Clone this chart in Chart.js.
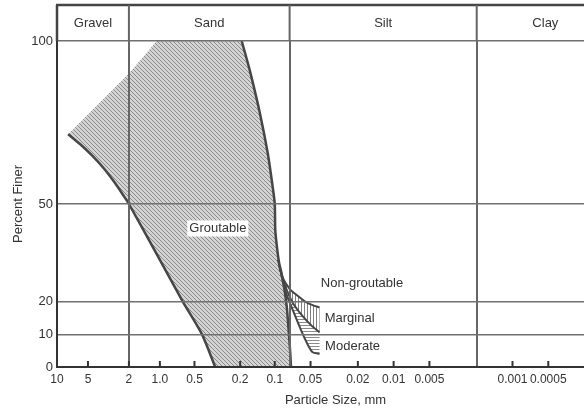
<!DOCTYPE html>
<html>
<head>
<meta charset="utf-8">
<script src="https://cdn.jsdelivr.net/npm/chart.js@4/dist/chart.umd.min.js"></script>
<style>
  html, body { margin: 0; padding: 0; background: #fff; overflow: hidden; }
  /* the sheet runs on past the right edge of the window */
  #grading { display: block; }
</style>
</head>
<body>
<canvas id="grading" width="614" height="412"></canvas>
<script>
/* global Chart */
{
  ('use strict');

  // sieve sizes (mm) labelled on the axis, coarse to fine
  const sizeTicks = [10, 5, 2, 1, 0.5, 0.2, 0.1, 0.05, 0.02, 0.01, 0.005, 0.001, 0.0005];
  const sizeTickLabels = ['10', '5', '2', '1.0', '0.5', '0.2', '0.1', '0.05', '0.02', '0.01', '0.005', '0.001', '0.0005'];
  const percentTicks = [0, 10, 20, 50, 100];

  // soil classes and the sizes (mm) that separate them
  const soilClasses = ['Gravel', 'Sand', 'Silt', 'Clay'];
  const classLimits = [10, 2, 0.075, 0.002, 0.00014];

  // groutable band - coarse edge, bottom up to the apex
  const coarseSize = [0.33, 0.43, 0.63, 1.09, 2.0, 2.24, 2.74, 3.5, 4.57, 5.98, 7.8];
  const coarsePct = [0, 10, 20, 35, 50, 52.4, 56.5, 60.9, 64.9, 68.4, 71.4];
  // upper edge, apex to the 100% line
  const upperSize = [7.8, 2.0, 1.07];
  const upperPct = [71.4, 90, 100];
  // fine edge, top down to the axis
  const fineSize = [0.194, 0.165, 0.135, 0.115, 0.104, 0.1, 0.099, 0.096, 0.092, 0.088, 0.083, 0.079, 0.076, 0.074, 0.073];
  const finePct = [100, 91, 78, 65.5, 55, 50, 42, 37, 32, 29, 24, 18, 10, 4, 0];

  // limits of the marginal and moderate zones
  const marginalTopSize = [0.094, 0.086, 0.075, 0.065, 0.055, 0.048, 0.042];
  const marginalTopPct = [33, 27.5, 24, 22, 20, 19, 18.3];
  const moderateTopSize = [0.092, 0.082, 0.07, 0.058, 0.05, 0.042];
  const moderateTopPct = [31, 25, 19.5, 15.5, 13, 10.6];
  const moderateBottomSize = [0.09, 0.082, 0.0706, 0.059, 0.053, 0.048, 0.042];
  const moderateBottomPct = [30, 23.5, 17.5, 10.6, 7, 4.5, 4];

  // zone names and where they are written (size mm, percent)
  const zoneNames = ['Groutable', 'Non-groutable', 'Marginal', 'Moderate'];
  const zoneLabelSize = [0.313, 0.041, 0.038, 0.0377];
  const zoneLabelPct = [42.5, 25.7, 14.9, 6.3];

  const HEADER = 36;
  const FONT = '"Liberation Sans", Arial, sans-serif';
  const INK = '#333';

  Chart.defaults.font.family = FONT;
  Chart.defaults.font.size = 13;
  Chart.defaults.color = INK;

  const pts = function (sizes, pcts) {
    return sizes.map(function (s, i) {
      return { x: s, y: pcts[i] };
    });
  };

  /* log axis where every decade gets its own width, as on the printed grading sheet */
  class SieveScale extends Chart.LogarithmicScale {
    static id = 'sieve';
    static defaults = {};

    widthOf(k) {
      const widths = this.options.decadeWidths;
      return widths[Math.min(k, widths.length - 1)];
    }

    unitsOf(value) {
      let t = Math.log10(this.max / value);
      let units = 0;
      let k = 0;
      while (t > 1) {
        units += this.widthOf(k);
        t -= 1;
        k++;
      }
      return units + t * this.widthOf(k);
    }

    getPixelForValue(value) {
      return this.getPixelForDecimal(1 - this.unitsOf(value) / this.unitsOf(this.min));
    }

    getValueForPixel(pixel) {
      let units = (1 - this.getDecimalForPixel(pixel)) * this.unitsOf(this.min);
      let t = 0;
      let k = 0;
      while (units > this.widthOf(k)) {
        units -= this.widthOf(k);
        t++;
        k++;
      }
      t += units / this.widthOf(k);
      return this.max / Math.pow(10, t);
    }
  }
  Chart.register(SieveScale);

  /* hatch fills */
  const hatch = function (size, bg, ink, draw) {
    const c = document.createElement('canvas');
    c.width = size;
    c.height = size;
    const g = c.getContext('2d');
    g.fillStyle = bg;
    g.fillRect(0, 0, size, size);
    g.strokeStyle = ink;
    g.lineWidth = 1;
    g.beginPath();
    draw(g, size);
    g.stroke();
    return g.createPattern(c, 'repeat');
  };

  const diagonal = hatch(4, '#d4d4d4', '#8a8a8a', function (g, s) {
    g.moveTo(-1, -1);
    g.lineTo(s + 1, s + 1);
    g.moveTo(s - 1, -1);
    g.lineTo(s + 1, 1);
    g.moveTo(-1, s - 1);
    g.lineTo(1, s + 1);
  });
  const vertical = hatch(3, '#ffffff', '#808080', function (g, s) {
    g.moveTo(1.5, 0);
    g.lineTo(1.5, s);
  });
  const horizontal = hatch(3, '#ffffff', '#8a8a8a', function (g, s) {
    g.moveTo(0, 1.5);
    g.lineTo(s, 1.5);
  });

  const groutableShape = pts(coarseSize, coarsePct)
    .concat(pts(upperSize, upperPct).slice(1))
    .concat(pts(fineSize, finePct));
  const marginalShape = pts(marginalTopSize, marginalTopPct)
    .concat(pts(moderateTopSize, moderateTopPct).reverse());
  const moderateShape = pts(moderateTopSize, moderateTopPct)
    .concat(pts(moderateBottomSize, moderateBottomPct).reverse());

  const zone = function (data, pattern) {
    return {
      data: data,
      fill: 'shape',
      backgroundColor: pattern,
      borderColor: 'transparent',
      borderWidth: 0,
      pointRadius: 0,
      tension: 0,
      order: 2,
    };
  };

  const edge = function (data, width) {
    return {
      data: data,
      fill: false,
      borderColor: '#464646',
      borderWidth: width,
      pointRadius: 0,
      tension: 0.25,
      order: 0,
    };
  };

  /* header band with the soil classes, tick marks and zone names */
  const sheetPlugin = {
    id: 'sheet',
    beforeDraw(chart) {
      const ctx = chart.ctx;
      ctx.save();
      ctx.fillStyle = '#fff';
      ctx.fillRect(0, 0, chart.width, chart.height);
      ctx.restore();
    },
    afterDraw(chart) {
      const { ctx, chartArea: area, scales } = chart;
      const x = scales.x;
      const y = scales.y;
      const top = area.top - HEADER;

      ctx.save();
      ctx.lineCap = 'butt';

      ctx.strokeStyle = '#444';
      ctx.lineWidth = 2.5;
      ctx.beginPath();
      ctx.moveTo(area.left - 1, top);
      ctx.lineTo(area.right, top);
      ctx.moveTo(area.left, top);
      ctx.lineTo(area.left, area.top);
      ctx.stroke();

      ctx.strokeStyle = '#666';
      ctx.lineWidth = 2;
      ctx.beginPath();
      classLimits.slice(1, -1).forEach(function (v) {
        const px = x.getPixelForValue(v);
        ctx.moveTo(px, top);
        ctx.lineTo(px, area.top);
      });
      ctx.stroke();

      ctx.fillStyle = INK;
      ctx.font = '13px ' + FONT;
      ctx.textAlign = 'center';
      ctx.textBaseline = 'middle';
      soilClasses.forEach(function (name, i) {
        const a = x.getPixelForValue(classLimits[i]);
        const b = x.getPixelForValue(classLimits[i + 1]);
        ctx.fillText(name, (a + b) / 2, top + HEADER / 2);
      });

      // tick marks stand inside the plot
      ctx.strokeStyle = '#333';
      ctx.lineWidth = 2;
      ctx.beginPath();
      sizeTicks.forEach(function (v) {
        const px = x.getPixelForValue(v);
        ctx.moveTo(px, area.bottom);
        ctx.lineTo(px, area.bottom - 6);
      });
      ctx.stroke();

      zoneNames.forEach(function (name, i) {
        const px = x.getPixelForValue(zoneLabelSize[i]);
        const py = y.getPixelForValue(zoneLabelPct[i]);
        if (i === 0) {
          const w = ctx.measureText(name).width;
          ctx.fillStyle = '#fff';
          ctx.fillRect(px - w / 2 - 2, py - 8, w + 4, 16);
          ctx.fillStyle = INK;
          ctx.textAlign = 'center';
        } else {
          ctx.textAlign = 'left';
        }
        ctx.fillText(name, px, py);
      });

      ctx.restore();
    },
  };

  const ctx = document.getElementById('grading').getContext('2d');

  // eslint-disable-next-line
  const chart = new Chart(ctx, {
    type: 'line',
    data: {
      datasets: [
        edge(pts(coarseSize, coarsePct), 2.5),
        edge(pts(fineSize, finePct), 2.5),
        edge(pts(marginalTopSize, marginalTopPct), 2),
        edge(pts(moderateTopSize, moderateTopPct), 2),
        edge(pts(moderateBottomSize, moderateBottomPct), 2),
        zone(marginalShape, vertical),
        zone(moderateShape, horizontal),
        Object.assign(zone(groutableShape, diagonal), { order: 3 }),
      ],
    },
    options: {
      responsive: false,
      animation: false,
      events: [],
      layout: {
        padding: { top: 5 + HEADER, right: 0, bottom: 0, left: 0 },
      },
      plugins: {
        legend: { display: false },
        tooltip: { enabled: false },
      },
      scales: {
        x: {
          type: 'sieve',
          reverse: true,
          bounds: 'data',
          min: classLimits[classLimits.length - 1],
          max: classLimits[0],
          decadeWidths: [103, 115, 119, 119, 119],
          afterBuildTicks(scale) {
            const values = sizeTicks.concat(classLimits.slice(1, -1));
            scale.ticks = values
              .filter(function (v, i) {
                return values.indexOf(v) === i;
              })
              .sort(function (a, b) {
                return b - a;
              })
              .map(function (v) {
                return { value: v };
              });
          },
          afterFit(scale) {
            scale.height = 45;
          },
          grid: {
            z: 1,
            drawTicks: false,
            lineWidth: 2,
            color(c) {
              const v = c.tick && c.tick.value;
              return classLimits.slice(1, -1).includes(v) ? '#666' : 'transparent';
            },
          },
          border: { display: true, color: '#333', width: 2, z: 1 },
          ticks: {
            autoSkip: false,
            maxRotation: 0,
            minRotation: 0,
            padding: 5,
            color: INK,
            font: { size: 12 },
            callback(value) {
              const i = sizeTicks.indexOf(value);
              return i < 0 ? '' : sizeTickLabels[i];
            },
          },
          title: {
            display: true,
            text: 'Particle Size, mm',
            color: INK,
            padding: { top: 0, bottom: 4 },
          },
        },
        y: {
          min: 0,
          max: 100,
          afterBuildTicks(scale) {
            scale.ticks = percentTicks.map(function (v) {
              return { value: v };
            });
          },
          afterFit(scale) {
            scale.width = 57;
          },
          grid: {
            z: 1,
            drawTicks: false,
            lineWidth: 1.5,
            color(c) {
              return c.tick && c.tick.value === 0 ? 'transparent' : '#707070';
            },
          },
          border: { display: true, color: '#333', width: 2, z: 1 },
          ticks: { padding: 4, color: INK },
          title: {
            display: true,
            text: 'Percent Finer',
            color: INK,
            padding: { top: 11, bottom: 0 },
          },
        },
      },
    },
    plugins: [sheetPlugin],
  });
}
</script>
</body>
</html>
